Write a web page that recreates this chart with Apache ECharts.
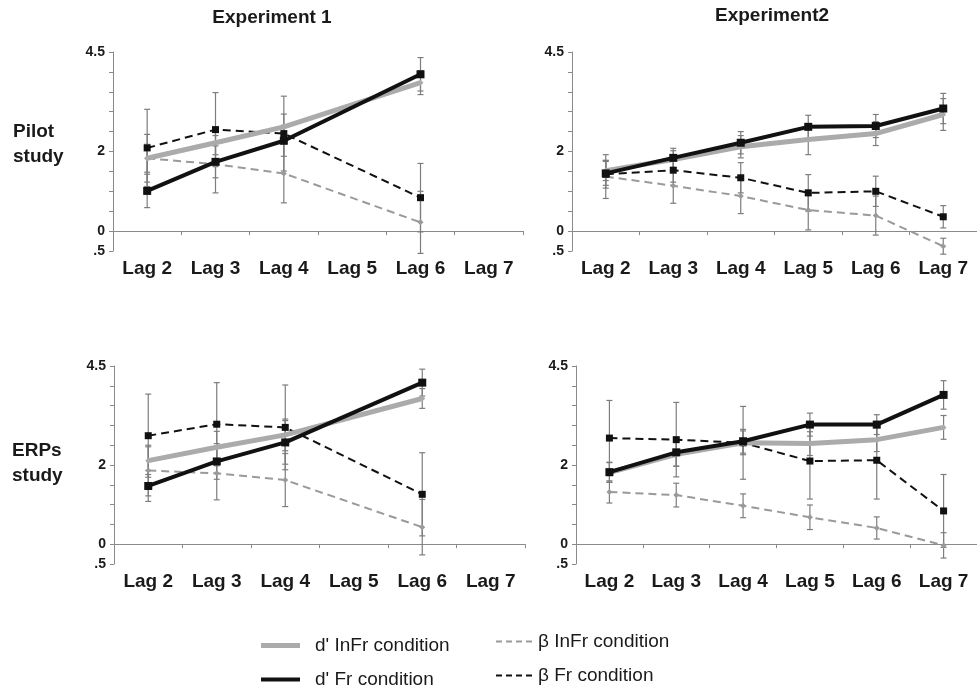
<!DOCTYPE html>
<html>
<head>
<meta charset="utf-8">
<script src="https://cdn.jsdelivr.net/npm/echarts@6/dist/echarts.min.js"></script>
<style>
  html, body { margin: 0; padding: 0; background: #fff; }
  #main { width: 977px; height: 689px; }
</style>
</head>
<body>
<div id="main"></div>
<script>
// categories and tick labels
var lags = ['Lag 2', 'Lag 3', 'Lag 4', 'Lag 5', 'Lag 6', 'Lag 7'];
var yLabelValues = [4.5, 2, 0, -0.5];
var yLabelTexts = ['4.5', '2', '0', '.5'];

// Pilot study, Experiment 1 (no Lag 5 / Lag 7)
var pilot1_dInFr = [1.83, 2.22, 2.62, null, 3.73, null];
var pilot1_dInFrErr = [0.35, 0.3, 0.32, null, 0.3, null];
var pilot1_dFr = [1.01, 1.74, 2.27, null, 3.94, null];
var pilot1_dFrErr = [0.42, 0.4, 0.39, null, 0.42, null];
var pilot1_bInFr = [1.83, 1.68, 1.45, null, 0.22, null];
var pilot1_bInFrErr = [0.6, 0.72, 0.74, null, 0.78, null];
var pilot1_bFr = [2.09, 2.55, 2.45, null, 0.84, null];
var pilot1_bFrErr = [0.97, 0.93, 0.94, null, 0.86, null];

// Pilot study, Experiment 2
var pilot2_dInFr = [1.52, 1.80, 2.12, 2.30, 2.45, 2.93];
var pilot2_dInFrErr = [0.25, 0.22, 0.28, 0.38, 0.3, 0.4];
var pilot2_dFr = [1.45, 1.84, 2.22, 2.62, 2.64, 3.08];
var pilot2_dFrErr = [0.3, 0.24, 0.28, 0.29, 0.29, 0.38];
var pilot2_bInFr = [1.37, 1.14, 0.88, 0.53, 0.39, -0.38];
var pilot2_bInFrErr = [0.55, 0.44, 0.44, 0.5, 0.49, 0.2];
var pilot2_bFr = [1.43, 1.53, 1.34, 0.96, 1.0, 0.36];
var pilot2_bFrErr = [0.35, 0.3, 0.38, 0.46, 0.38, 0.28];

// ERPs study, Experiment 1
var erp1_dInFr = [2.11, 2.45, 2.76, null, 3.68, null];
var erp1_dInFrErr = [0.35, 0.4, 0.4, null, 0.25, null];
var erp1_dFr = [1.47, 2.09, 2.57, null, 4.08, null];
var erp1_dFrErr = [0.39, 0.45, 0.55, null, 0.34, null];
var erp1_bInFr = [1.86, 1.79, 1.62, null, 0.43, null];
var erp1_bInFrErr = [0.64, 0.67, 0.67, null, 0.7, null];
var erp1_bFr = [2.74, 3.03, 2.95, null, 1.26, null];
var erp1_bFrErr = [1.05, 1.05, 1.07, null, 1.05, null];

// ERPs study, Experiment 2
var erp2_dInFr = [1.81, 2.27, 2.56, 2.54, 2.64, 2.95];
var erp2_dInFrErr = [0.25, 0.3, 0.3, 0.3, 0.3, 0.3];
var erp2_dFr = [1.82, 2.32, 2.60, 3.02, 3.02, 3.77];
var erp2_dFrErr = [0.25, 0.35, 0.3, 0.29, 0.25, 0.36];
var erp2_bInFr = [1.32, 1.24, 0.97, 0.68, 0.41, -0.03];
var erp2_bInFrErr = [0.28, 0.3, 0.3, 0.31, 0.28, 0.32];
var erp2_bFr = [2.68, 2.64, 2.56, 2.10, 2.12, 0.84];
var erp2_bFrErr = [0.95, 0.94, 0.92, 0.96, 0.98, 0.92];

var names = ["d' InFr condition", "d' Fr condition", "\u03b2 InFr condition", "\u03b2 Fr condition"];

var panels = [
  { grid: {left: 113, top: 52, width: 410, height: 199},
    d: [pilot1_dInFr, pilot1_dFr, pilot1_bInFr, pilot1_bFr],
    e: [pilot1_dInFrErr, pilot1_dFrErr, pilot1_bInFrErr, pilot1_bFrErr] },
  { grid: {left: 572, top: 52, width: 411, height: 199},
    d: [pilot2_dInFr, pilot2_dFr, pilot2_bInFr, pilot2_bFr],
    e: [pilot2_dInFrErr, pilot2_dFrErr, pilot2_bInFrErr, pilot2_bFrErr] },
  { grid: {left: 114, top: 366, width: 411, height: 198},
    d: [erp1_dInFr, erp1_dFr, erp1_bInFr, erp1_bFr],
    e: [erp1_dInFrErr, erp1_dFrErr, erp1_bInFrErr, erp1_bFrErr] },
  { grid: {left: 576, top: 366, width: 411, height: 198},
    d: [erp2_dInFr, erp2_dFr, erp2_bInFr, erp2_bFr],
    e: [erp2_dInFrErr, erp2_dFrErr, erp2_bInFrErr, erp2_bFrErr] }
];

var FONT = '"Liberation Sans", Arial, sans-serif';
var axisGrey = '#8a8a8a';

// line look of each condition
var looks = [
  {color: '#ababab', width: 5, type: 'solid', symbol: 'diamond', size: 6, z: 4},
  {color: '#111111', width: 4, type: 'solid', symbol: 'rect', size: 8, z: 5},
  {color: '#9a9a9a', width: 2, type: [8, 5], symbol: 'diamond', size: 6, z: 2},
  {color: '#111111', width: 2, type: [8, 5], symbol: 'rect', size: 7, z: 3}
];

function renderErr(params, api) {
  var x = api.value(0);
  var lo = api.coord([x, api.value(1)]);
  var hi = api.coord([x, api.value(2)]);
  var w = 3;
  var st = {stroke: '#7d7d7d', lineWidth: 1.2};
  return {type: 'group', children: [
    {type: 'line', shape: {x1: lo[0], y1: lo[1], x2: hi[0], y2: hi[1]}, style: st},
    {type: 'line', shape: {x1: lo[0] - w, y1: lo[1], x2: lo[0] + w, y2: lo[1]}, style: st},
    {type: 'line', shape: {x1: hi[0] - w, y1: hi[1], x2: hi[0] + w, y2: hi[1]}, style: st}
  ]};
}

var grids = [], xAxes = [], yAxes = [], series = [];
panels.forEach(function (p, i) {
  grids.push(p.grid);
  // labels axis at the bottom
  xAxes.push({
    type: 'category', gridIndex: i, data: lags, position: 'bottom',
    axisLine: {show: false, onZero: false}, axisTick: {show: false},
    axisLabel: {color: '#1a1a1a', fontSize: 19, fontWeight: 'bold', fontFamily: FONT, margin: 8, interval: 0}
  });
  // line at zero
  xAxes.push({
    type: 'category', gridIndex: i, data: lags, position: 'top',
    axisLine: {show: true, onZero: true, lineStyle: {color: axisGrey, width: 1}},
    axisTick: {show: true, inside: true, length: 4, lineStyle: {color: axisGrey}},
    axisLabel: {show: false}
  });
  yAxes.push({
    type: 'value', gridIndex: i, min: -0.5, max: 4.5, interval: 0.5,
    axisLine: {show: true, lineStyle: {color: axisGrey, width: 1}},
    axisTick: {show: true, length: 4, lineStyle: {color: axisGrey}},
    splitLine: {show: false},
    axisLabel: {
      color: '#1a1a1a', fontSize: 14, fontWeight: 'bold', fontFamily: FONT, margin: 8,
      formatter: function (v) {
        for (var k = 0; k < yLabelValues.length; k++) {
          if (Math.abs(v - yLabelValues[k]) < 1e-6) return yLabelTexts[k];
        }
        return '';
      }
    }
  });
  var xi = i * 2;
  // error bars
  var errData = [];
  p.d.forEach(function (vals, s) {
    vals.forEach(function (v, c) {
      if (v !== null) errData.push([c, v - p.e[s][c], v + p.e[s][c]]);
    });
  });
  series.push({
    type: 'custom', xAxisIndex: xi, yAxisIndex: i, renderItem: renderErr,
    data: errData, encode: {x: 0, y: [1, 2]}, z: 1, silent: true, clip: false
  });
  p.d.forEach(function (vals, s) {
    var lk = looks[s];
    series.push({
      name: names[s], type: 'line', xAxisIndex: xi, yAxisIndex: i,
      data: vals, connectNulls: true, z: lk.z,
      symbol: lk.symbol, symbolSize: lk.size, showSymbol: true,
      itemStyle: {color: lk.color},
      lineStyle: {color: lk.color, width: lk.width, type: lk.type},
      emphasis: {disabled: true}
    });
  });
});

function legendItem(name, left, top, icon, w, h, pad) {
  return {
    left: left, top: top, padding: 0, selectedMode: false,
    data: [name], icon: icon, itemWidth: w, itemHeight: h, symbolKeepAspect: false,
    textStyle: {color: '#1a1a1a', fontSize: 19, fontFamily: FONT, padding: [0, 0, 0, pad]}
  };
}

var dashPath = 'path://M0,0h6v2h-6z M10,0h6v2h-6z M20,0h6v2h-6z M30,0h6v2h-6z';

var titleFont = 'bold 19px ' + FONT;
var option = {
  animation: false,
  backgroundColor: '#fff',
  grid: grids,
  xAxis: xAxes,
  yAxis: yAxes,
  series: series,
  legend: [
    legendItem(names[0], 261, 636, 'path://M0,0h39v5h-39z', 39, 5, 10),
    legendItem(names[1], 261, 670, 'path://M0,0h39v4h-39z', 39, 4, 10),
    legendItem(names[2], 496, 632, dashPath, 36, 2, 1),
    legendItem(names[3], 496, 666, dashPath, 36, 2, 1)
  ],
  graphic: [
    {type: 'text', x: 272, y: 18, style: {text: 'Experiment 1', font: titleFont, fill: '#1a1a1a', textAlign: 'center', textVerticalAlign: 'middle'}},
    {type: 'text', x: 772, y: 16, style: {text: 'Experiment2', font: titleFont, fill: '#1a1a1a', textAlign: 'center', textVerticalAlign: 'middle'}},
    {type: 'text', x: 13, y: 132, style: {text: 'Pilot', font: titleFont, fill: '#1a1a1a', textVerticalAlign: 'middle'}},
    {type: 'text', x: 13, y: 157, style: {text: 'study', font: titleFont, fill: '#1a1a1a', textVerticalAlign: 'middle'}},
    {type: 'text', x: 12, y: 451, style: {text: 'ERPs', font: titleFont, fill: '#1a1a1a', textVerticalAlign: 'middle'}},
    {type: 'text', x: 12, y: 476, style: {text: 'study', font: titleFont, fill: '#1a1a1a', textVerticalAlign: 'middle'}}
  ]
};

var myChart = echarts.init(document.getElementById('main'));
myChart.setOption(option);
window.addEventListener('resize', function () { myChart.resize(); });
</script>
</body>
</html>
